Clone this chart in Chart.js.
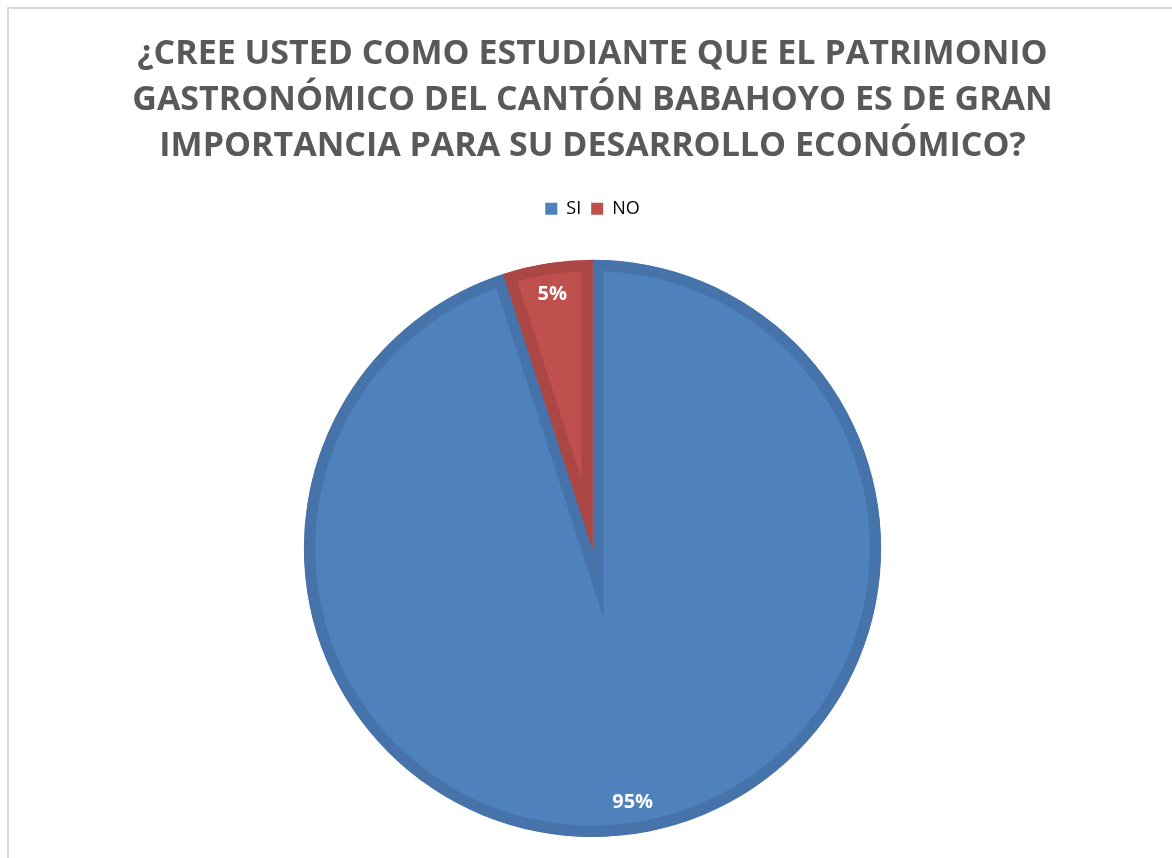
<!DOCTYPE html>
<html>
<head>
<meta charset="utf-8">
<script src="https://cdn.jsdelivr.net/npm/chart.js@4"></script>
<style>
  body { margin: 0; background: #fff; overflow: hidden; }
  .frame {
    position: absolute; left: 7px; top: 7px;
    width: 1200px; height: 900px;
    border: 2px solid #d9d9d9;
  }
  .wrap { position: absolute; left: 0; top: 0; width: 1172px; height: 858px; }
</style>
</head>
<body>
<div class="frame"></div>
<div class="wrap"><canvas id="pie"></canvas></div>
<script>
// datos de la encuesta
const titleLines = [
  "¿CREE USTED COMO ESTUDIANTE QUE EL PATRIMONIO",
  "GASTRONÓMICO DEL CANTÓN BABAHOYO ES DE GRAN",
  "IMPORTANCIA PARA SU DESARROLLO ECONÓMICO?"
];
const categories = ["SI", "NO"];
const percents = [95, 5];

const fillColors = ["#4f81bd", "#c0504d"];
const edgeColors = ["#4673aa", "#ab4744"];

// etiquetas de porcentaje dentro de cada porción
const pieLabels = {
  id: "pieLabels",
  afterDatasetsDraw(chart) {
    const ctx = chart.ctx;
    const meta = chart.getDatasetMeta(0);
    ctx.save();
    ctx.font = "bold 20px 'Open Sans'";
    ctx.fillStyle = "#ffffff";
    ctx.textAlign = "center";
    ctx.textBaseline = "middle";
    meta.data.forEach((arc, i) => {
      const p = arc.getProps(["x", "y", "startAngle", "endAngle", "outerRadius"]);
      const mid = (p.startAngle + p.endAngle) / 2;
      const r = p.outerRadius * 0.89;
      ctx.fillText(percents[i] + "%", p.x + Math.cos(mid) * r, p.y + Math.sin(mid) * r);
    });
    ctx.restore();
  }
};

// espacio extra debajo de la leyenda
const legendGap = {
  id: "legendGap",
  beforeInit(chart) {
    const fit = chart.legend.fit;
    chart.legend.fit = function () {
      fit.bind(chart.legend)();
      this.height += 32;
    };
  }
};

const ctx = document.getElementById("pie").getContext("2d");
new Chart(ctx, {
  type: "pie",
  data: {
    labels: categories,
    datasets: [{
      data: percents,
      backgroundColor: fillColors,
      borderColor: edgeColors,
      borderWidth: 11,
      borderAlign: "inner",
      borderJoinStyle: "miter",
      hoverOffset: 0
    }]
  },
  options: {
    responsive: true,
    maintainAspectRatio: false,
    animation: false,
    events: [],
    layout: { padding: { left: 13, right: 0, top: 0, bottom: 21 } },
    plugins: {
      title: {
        display: true,
        text: titleLines,
        color: "#595959",
        font: { family: "'Open Sans'", size: 34, weight: "bold", lineHeight: 1.36 },
        padding: { top: 31, bottom: 20 }
      },
      legend: {
        position: "top",
        labels: {
          color: "#595959",
          font: { family: "'Open Sans'", size: 18 },
          boxWidth: 12,
          boxHeight: 12,
          padding: 10,
          generateLabels(chart) {
            return categories.map((c, i) => ({
              text: c,
              fillStyle: fillColors[i],
              strokeStyle: fillColors[i],
              lineWidth: 0,
              index: i
            }));
          }
        }
      },
      tooltip: { enabled: false }
    }
  },
  plugins: [pieLabels, legendGap]
});
</script>
</body>
</html>
